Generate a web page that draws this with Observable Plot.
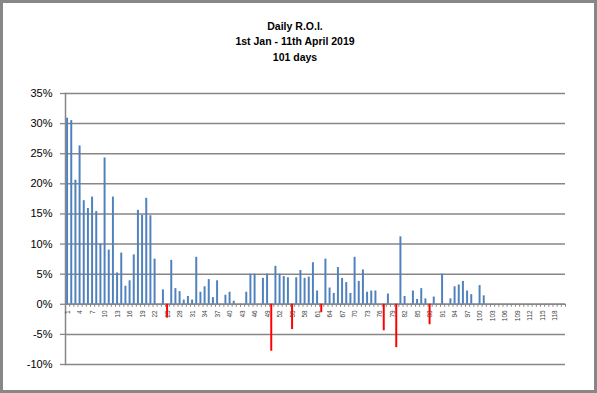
<!DOCTYPE html>
<html><head><meta charset="utf-8">
<script src="https://cdn.jsdelivr.net/npm/d3@7"></script>
<script src="https://cdn.jsdelivr.net/npm/@observablehq/plot@0.6"></script>
<style>
html,body{margin:0;padding:0;background:#fff;}
#wrap{position:relative;width:597px;height:393px;overflow:hidden;font-family:"Liberation Sans",Arial,sans-serif;background:#fff;}
#frame{position:absolute;left:0;top:0;width:597px;height:393px;box-sizing:border-box;border:3px solid #878787;pointer-events:none;}
#title{position:absolute;left:0;top:19px;width:590px;text-align:center;font-weight:bold;font-size:10.5px;line-height:15.3px;color:#000;}
#chart{position:absolute;left:0;top:0;}
</style></head>
<body><div id="wrap"><div id="chart"></div><div id="title"></div><div id="frame"></div></div>
<script>
const titleLines = ["Daily R.O.I.", "1st Jan - 11th April 2019", "101 days"];

const days = d3.range(1, 102);
// daily ROI in %, null = no bar
const roi = [
  30.9, 30.5, 20.6, 26.3, 17.2, 15.9, 17.8, 15.4, 10.0, 24.3,
  9.0, 17.8, 5.2, 8.5, 3.0, 3.9, 8.2, 15.6, 14.8, 17.6,
  14.7, 7.5, null, 2.4, -2.3, 7.3, 2.6, 2.1, 0.7, 1.3,
  0.7, 7.8, 2.0, 2.9, 4.1, 1.1, 3.9, null, 1.5, 2.0,
  0.5, null, null, 2.0, 5.0, 5.0, null, 4.3, 5.0, -7.8,
  6.3, 5.0, 4.6, 4.4, -4.2, 4.4, 5.6, 4.3, 4.5, 6.9,
  2.2, -1.4, 7.5, 2.7, 1.8, 6.1, 4.3, 3.6, 1.8, 7.8,
  3.8, 5.7, 2.0, 2.2, 2.2, null, -4.4, 1.7, null, -7.2,
  11.2, 1.3, null, 2.2, 0.8, 2.6, 0.9, -3.4, 1.2, null,
  5.0, null, 0.9, 2.9, 3.2, 3.8, 2.2, 1.6, null, 3.1,
  1.4
];
const categories = d3.range(1, 121);
const tickLabels = d3.range(1, 121, 3);
const yTicks = d3.range(-10, 36, 5);

document.getElementById("title").innerHTML = titleLines.join("<br>");

const data = days.map((d, i) => ({day: d, v: roi[i]})).filter(d => d.v != null);
const pos = data.filter(d => d.v >= 0);
const neg = data.filter(d => d.v < 0);
const grid = "#878787";

const chart = Plot.plot({
  width: 597, height: 393,
  marginLeft: 65, marginRight: 32, marginTop: 93, marginBottom: 29,
  x: {type: "band", domain: categories, padding: 0, round: false, axis: null},
  y: {domain: [-10, 35], axis: null, label: null},
  style: {fontFamily: "'Liberation Sans', Arial, sans-serif", background: "transparent"},
  marks: [
    Plot.gridY(yTicks, {stroke: grid, strokeOpacity: 1, strokeWidth: 1.5}),
    Plot.axisY(yTicks, {tickFormat: d => d + "%", label: null, tickSize: 5, tickPadding: 8, fontSize: 11, stroke: grid, strokeWidth: 1.3, fill: "#000"}),
    Plot.frame({anchor: "left", stroke: grid, strokeWidth: 1.5}),
    Plot.ruleY([0], {stroke: grid, strokeWidth: 1.5}),
    Plot.ruleX(categories, {x: d => d, y1: 0, y2: -0.5, dx: -2.083, stroke: grid, strokeWidth: 1}),
    Plot.ruleX(categories.slice(-1), {x: d => d, y1: 0, y2: -0.5, dx: 2.083, stroke: grid, strokeWidth: 1}),
    Plot.text(tickLabels, {x: d => d, y: 0, text: d => String(d), rotate: -90, textAnchor: "end", lineAnchor: "middle", dy: 6, fontSize: 6.5, fill: "#404040"}),
    Plot.barY(pos, {x: "day", y: "v", fill: "#4f81bd", insetLeft: 1.1, insetRight: 1.1}),
    Plot.barY(neg, {x: "day", y: "v", fill: "#ff0000", insetLeft: 1.1, insetRight: 1.1})
  ]
});
document.getElementById("chart").appendChild(chart);
</script>
</body></html>
